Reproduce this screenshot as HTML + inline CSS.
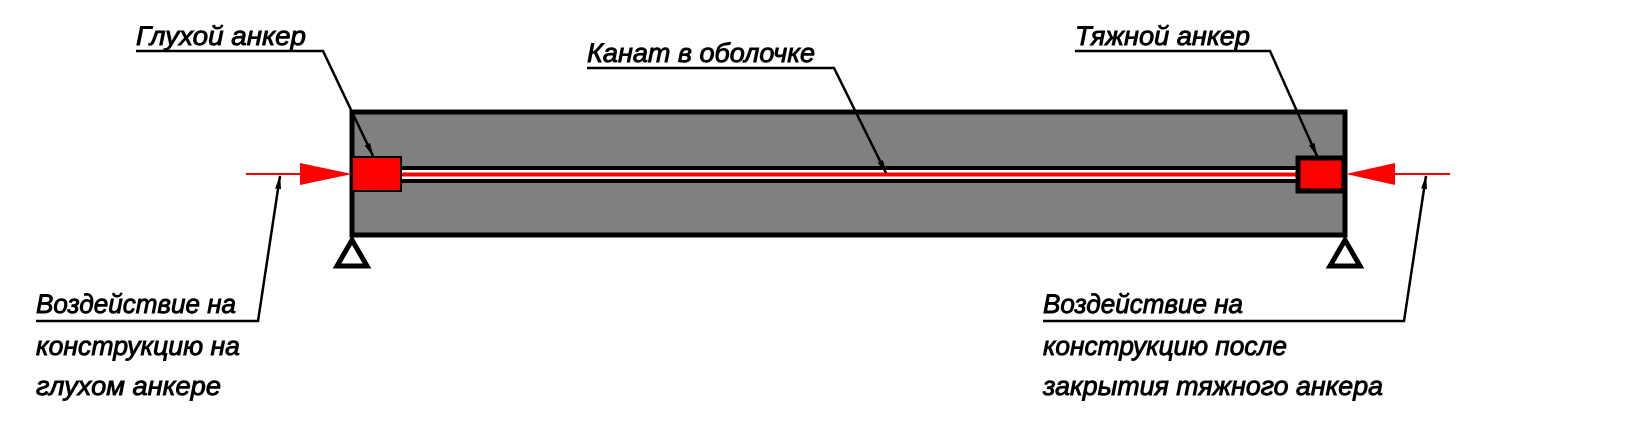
<!DOCTYPE html>
<html><head><meta charset="utf-8"><style>
html,body{margin:0;padding:0;background:#fff;}
svg{display:block}
text{font-family:"Liberation Sans","DejaVu Sans",sans-serif;font-style:italic;font-size:27px;fill:#000;stroke:#000;stroke-width:0.9px}
</style></head><body>
<svg width="1646" height="427" viewBox="0 0 1646 427" xmlns="http://www.w3.org/2000/svg">
<defs>
<marker id="ah" markerWidth="14" markerHeight="10" refX="13" refY="5" orient="auto" markerUnits="userSpaceOnUse" viewBox="0 0 14 10">
<path d="M0,2 L14,5 L0,8 Z" fill="#000"/></marker>
</defs>
<!-- beam -->
<rect x="352" y="112" width="993" height="123" fill="#808080" stroke="#000" stroke-width="5"/>
<!-- rope -->
<rect x="400" y="166" width="898" height="17" fill="#fff"/>
<line x1="400" y1="168" x2="1298" y2="168" stroke="#000" stroke-width="4"/>
<line x1="400" y1="181" x2="1298" y2="181" stroke="#000" stroke-width="4"/>
<line x1="400" y1="174.5" x2="1298" y2="174.5" stroke="#f00" stroke-width="4"/>
<!-- anchors -->
<rect x="352" y="157" width="49" height="34" fill="#f00" stroke="#000" stroke-width="2"/>
<rect x="1298" y="158" width="46" height="33" fill="#f00" stroke="#000" stroke-width="5"/>
<!-- supports -->
<polygon points="352,240 337,266 367,266" fill="#fff" stroke="#000" stroke-width="5"/>
<polygon points="1345,240 1330,266 1360,266" fill="#fff" stroke="#000" stroke-width="5"/>
<!-- force arrows -->
<line x1="246" y1="174" x2="305" y2="174" stroke="#f00" stroke-width="2"/>
<polygon points="300,163 352,174 300,185" fill="#f00"/>
<line x1="1390" y1="174" x2="1450" y2="174" stroke="#f00" stroke-width="2"/>
<polygon points="1395,163 1346,174 1395,185" fill="#f00"/>
<!-- labels -->
<text x="136" y="45" textLength="170" lengthAdjust="spacingAndGlyphs">Глухой анкер</text>
<polyline points="136,51 323,51 373,156" fill="none" stroke="#000" stroke-width="2.5" marker-end="url(#ah)"/>
<text x="587" y="62" textLength="228" lengthAdjust="spacingAndGlyphs">Канат в оболочке</text>
<polyline points="587,68 834,68 886,173" fill="none" stroke="#000" stroke-width="2.5" marker-end="url(#ah)"/>
<text x="1075" y="45" textLength="175" lengthAdjust="spacingAndGlyphs">Тяжной анкер</text>
<polyline points="1075,51 1270,51 1317,156" fill="none" stroke="#000" stroke-width="2.5" marker-end="url(#ah)"/>
<text x="36" y="313" textLength="200" lengthAdjust="spacingAndGlyphs">Воздействие на</text>
<text x="36" y="355" textLength="204" lengthAdjust="spacingAndGlyphs">конструкцию на</text>
<text x="36" y="395" textLength="185" lengthAdjust="spacingAndGlyphs">глухом анкере</text>
<polyline points="36,321 258,321 280,176" fill="none" stroke="#000" stroke-width="2.5" marker-end="url(#ah)"/>
<text x="1043" y="313" textLength="200" lengthAdjust="spacingAndGlyphs">Воздействие на</text>
<text x="1043" y="355" textLength="244" lengthAdjust="spacingAndGlyphs">конструкцию после</text>
<text x="1043" y="395" textLength="340" lengthAdjust="spacingAndGlyphs">закрытия тяжного анкера</text>
<polyline points="1043,321 1404,321 1426,176" fill="none" stroke="#000" stroke-width="2.5" marker-end="url(#ah)"/>
</svg>
</body></html>
